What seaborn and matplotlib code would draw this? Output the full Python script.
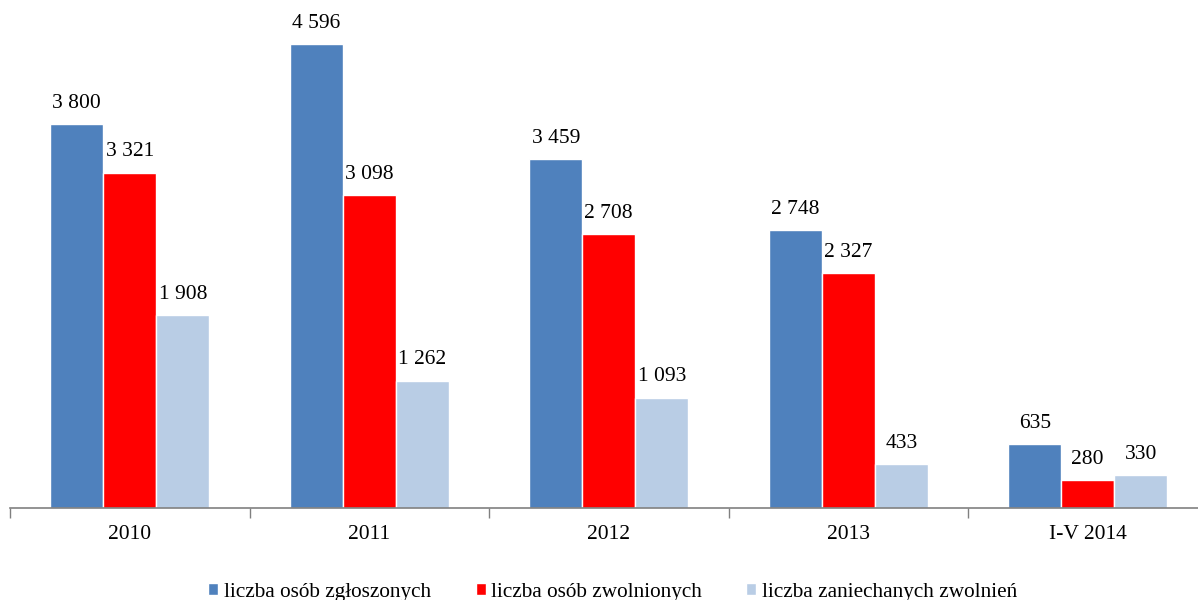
import pandas as pd
import matplotlib.pyplot as plt
import seaborn as sns

years = ['2010', '2011', '2012', '2013', 'I-V 2014']
series = ['liczba osób zgłoszonych', 'liczba osób zwolnionych', 'liczba zaniechanych zwolnień']
zgloszonych = [3800, 4596, 3459, 2748, 635]
zwolnionych = [3321, 3098, 2708, 2327, 280]
zaniechanych = [1908, 1262, 1093, 433, 330]
colors = ['#4F81BD', '#FF0000', '#B9CDE5']

rows = []
for name, vals in zip(series, [zgloszonych, zwolnionych, zaniechanych]):
    for y, v in zip(years, vals):
        rows.append({'rok': y, 'seria': name, 'wartosc': v})
df = pd.DataFrame(rows)

sns.set_theme(style="white")
plt.rcParams['font.family'] = ['Liberation Serif', 'DejaVu Serif']
plt.rcParams['text.color'] = 'black'
plt.rcParams['xtick.color'] = 'black'

fig = plt.figure(figsize=(11.98, 6.0), dpi=100)
ax = fig.add_axes([10 / 1198, 92 / 600, 1197.5 / 1198, 505 / 600])

sns.barplot(data=df, x='rok', y='wartosc', hue='seria', palette=colors,
            width=0.664, gap=0, saturation=1, ax=ax, legend=True)

for cont, vals in zip(ax.containers, [zgloszonych, zwolnionych, zaniechanych]):
    labels = [f"{v:,}".replace(',', ' ') for v in vals]
    ax.bar_label(cont, labels=labels, padding=8, fontsize=15.5, color='black')

ax.set_ylim(0, 5000)
ax.set_xlim(-0.5, 4.5)
ax.set_xlabel('')
ax.set_ylabel('')
ax.set_yticks([])
ax.tick_params(axis='x', which='major', length=0, labelsize=15.5, pad=12, labelcolor='black')
ax.set_xticks([i - 0.5 for i in range(6)], minor=True)
ax.tick_params(axis='x', which='minor', bottom=True, length=7, color='#808080',
               width=1, direction='out')
for s in ['top', 'right', 'left']:
    ax.spines[s].set_visible(False)
ax.spines['bottom'].set_color('#808080')
ax.spines['bottom'].set_linewidth(1.2)

ax.legend(loc='center', bbox_to_anchor=(613 / 1198, 8 / 600), bbox_transform=fig.transFigure,
          ncol=3, frameon=False, fontsize=15.3, handlelength=0.47, handleheight=0.47,
          handletextpad=0.28, columnspacing=2.07, labelcolor='black')

fig.savefig('out.png', dpi=100)
